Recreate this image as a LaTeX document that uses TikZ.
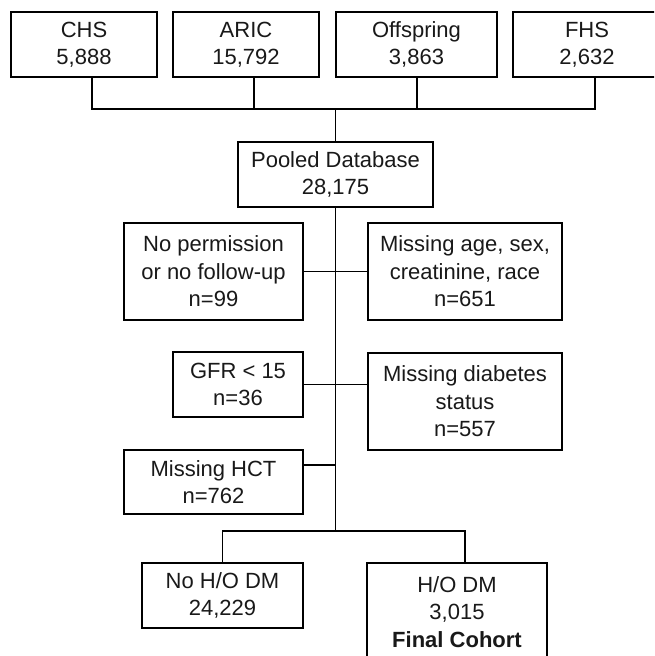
\documentclass[tikz,border=0pt]{standalone}
\usepackage{fontspec}
\setmainfont{Liberation Sans}
\begin{document}
\begin{tikzpicture}[x=1pt,y=-1pt,
  box/.style={draw=black,line width=1.6pt,rectangle,align=center,inner sep=0pt,outer sep=0pt,
    font=\fontsize{22}{27.5}\selectfont,text=black!90},
  conn/.style={draw=black,line width=1.6pt}]
\useasboundingbox (0,0) rectangle (654,656);
\clip (0,0) rectangle (654,656);
\fill[white] (0,0) rectangle (654,656);
% top row
\node[box,minimum width=146pt,minimum height=65pt] (chs) at (84,44.5) {CHS\\5,888};
\node[box,minimum width=146pt,minimum height=65pt] (aric) at (246,44.5) {ARIC\\15,792};
\node[box,minimum width=161pt,minimum height=65pt] (off) at (416.5,44.5) {Offspring\\3,863};
\node[box,minimum width=148pt,minimum height=65pt] (fhs) at (587,44.5) {FHS\\2,632};
% pooled
\node[box,minimum width=195pt,minimum height=65pt] (pool) at (335.5,174.5) {Pooled Database\\28,175};
% exclusions
\node[box,minimum width=179pt,minimum height=97pt] (perm) at (213.5,271.5) {No permission\\or no follow-up\\n=99};
\node[box,minimum width=194pt,minimum height=97pt] (miss) at (465,271.5) {Missing age, sex,\\creatinine, race\\n=651};
\node[box,minimum width=130pt,minimum height=65pt] (gfr) at (238,384.5) {GFR < 15\\n=36};
\node[box,minimum width=194pt,minimum height=97pt] (diab) at (465,401.5) {Missing diabetes\\status\\n=557};
\node[box,minimum width=179pt,minimum height=64pt] (hct) at (213.5,482) {Missing HCT\\n=762};
% outcome
\node[box,minimum width=161pt,minimum height=65pt] (nodm) at (222.5,595.5) {No H/O DM\\24,229};
\node[box,minimum width=180pt,minimum height=98pt] (dm) at (457,612) {H/O DM\\3,015\\\textbf{Final Cohort}};
% junction coordinates
\coordinate (j) at (335.5,109);
\coordinate (split) at (335.5,531);
% connectors: top bus
\draw[conn] ([xshift=8pt]chs.south) -- ++(0,32) -| ([xshift=8pt]fhs.south);
\draw[conn] ([xshift=8pt]aric.south) -- ([xshift=8pt]aric.south |- j);
\draw[conn] ([xshift=0.5pt]off.south) -- ([xshift=0.5pt]off.south |- j);
\draw[conn] (j) -- (pool.north);
% trunk
\draw[conn] (pool.south) -- (split);
\draw[conn] (perm.east) -- (miss.west);
\draw[conn] (gfr.east) -- (gfr.east -| diab.west);
\draw[conn] ([yshift=17pt]hct.east) -- ([yshift=17pt]hct.east -| split);
% split
\draw[conn] (nodm.north) |- ([xshift=8pt]dm.north |- split) -- ([xshift=8pt]dm.north);
\end{tikzpicture}
\end{document}
